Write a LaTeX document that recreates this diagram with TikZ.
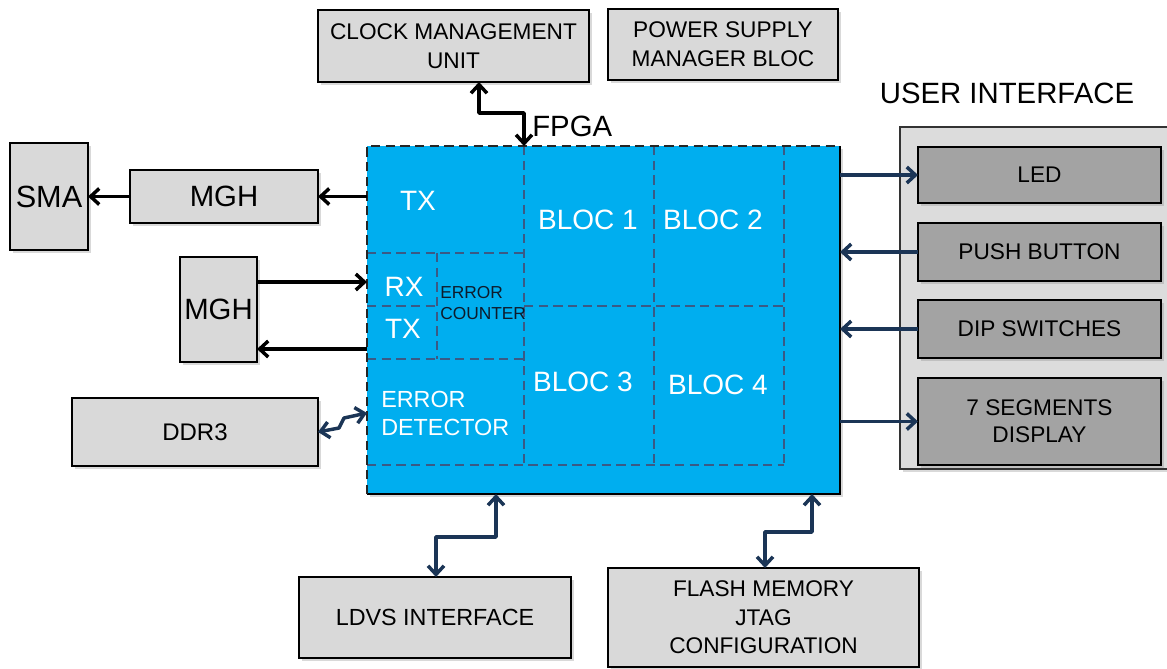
\documentclass[tikz,border=0pt]{standalone}
\usepackage{fontspec}
\setmainfont{Liberation Sans}
\usetikzlibrary{arrows.meta,shadows}
\definecolor{fpgablue}{HTML}{00AEEF}
\definecolor{lgray}{HTML}{D9D9D9}
\definecolor{dgray}{HTML}{A3A3A3}
\definecolor{uigray}{HTML}{DCDCDC}
\definecolor{navy}{HTML}{1B3556}
\definecolor{dashc}{HTML}{3A5A85}
\newcommand\myfs[2]{\fontsize{#1}{#2}\selectfont}
\begin{document}
\begin{tikzpicture}[x=0.75pt,y=-0.75pt,
  >={Straight Barb[length=6.5pt,width=12pt]},
  box/.style={draw=black, line width=1.8pt, fill=lgray, inner sep=0pt, outer sep=0pt, align=center,
    drop shadow={shadow xshift=2pt,shadow yshift=-2pt,opacity=0.3}},
  uibox/.style={box, fill=dgray},
  wtxt/.style={text=white, inner sep=0pt},
  dsh/.style={draw=dashc, line width=1.6pt, dash pattern=on 7pt off 4pt},
  barr/.style={draw=black, line width=2.6pt, line join=round},
  narr/.style={draw=navy, line width=2.6pt, line join=round},
  t17/.style={font=\myfs{17}{21.5}\selectfont}
]
\useasboundingbox (0,0) rectangle (1167,668);

% top boxes
\node[box, t17, minimum width=271*0.75pt, minimum height=72*0.75pt] (clk) at (453.5,46) {CLOCK MANAGEMENT\\UNIT};
\node[box, t17, minimum width=230*0.75pt, minimum height=71*0.75pt] (pwr) at (723,44.5) {POWER SUPPLY\\MANAGER BLOC};

% FPGA
\node[fill=fpgablue, inner sep=0pt, outer sep=0pt, minimum width=473*0.75pt, minimum height=348*0.75pt,
  drop shadow={shadow xshift=2pt,shadow yshift=-2pt,opacity=0.3}] (fpga) at (603.5,320) {};
\draw[dsh] (524,146) -- (524,465);
\draw[dsh] (654,146) -- (654,465);
\draw[dsh] (784,146) -- (784,465);
\draw[dsh] (524,306) -- (784,306);
\draw[dsh] (367,465) -- (784,465);
\draw[dsh] (367,253) -- (523,253);
\draw[dsh] (367,359) -- (523,359);
\draw[dsh] (437,253) -- (437,359);
\draw[dsh] (367,306) -- (437,306);
\draw[draw=black, line width=2.2pt] (fpga.north east) -- (fpga.south east) -- (fpga.south west);
\draw[draw=black!85, line width=2.2pt, dash pattern=on 7pt off 4pt] (fpga.south west) -- (fpga.north west) -- (fpga.north east);
\node[anchor=west, inner sep=0pt, font=\myfs{22}{26}] (fpgal) at (532,126) {FPGA};

\node[wtxt, font=\myfs{21}{25}] (tx1) at (418,201) {TX};
\node[wtxt, font=\myfs{21}{25}] (b1) at (588,220) {BLOC 1};
\node[wtxt, font=\myfs{21}{25}] (b2) at (713,220) {BLOC 2};
\node[wtxt, font=\myfs{21}{25}] (b3) at (583,382) {BLOC 3};
\node[wtxt, font=\myfs{21}{25}] (b4) at (718,385) {BLOC 4};
\node[wtxt, font=\myfs{21}{25}] (rx) at (404,287) {RX};
\node[wtxt, font=\myfs{21}{25}] (tx2) at (403,329) {TX};
\node[anchor=west, inner sep=0pt, align=left, text=navy!50!black, font=\myfs{13}{15.5}] (ec) at (440,303) {ERROR\\COUNTER};
\node[anchor=west, wtxt, align=left, font=\myfs{17.5}{20.5}] (ed) at (381,413.5) {ERROR\\DETECTOR};

% left side
\node[box, font=\myfs{23}{26}, minimum width=78*0.75pt, minimum height=107*0.75pt] (sma) at (49,196.5) {SMA};
\node[box, font=\myfs{22}{26}, minimum width=188*0.75pt, minimum height=53*0.75pt] (mgh1) at (224,196.5) {MGH};
\node[box, font=\myfs{22}{26}, minimum width=77*0.75pt, minimum height=105*0.75pt] (mgh2) at (218.5,309.5) {MGH};
\node[box, font=\myfs{18}{20}, minimum width=246*0.75pt, minimum height=68*0.75pt] (ddr) at (195,432) {DDR3};

\coordinate (rxin) at (367,282);
\coordinate (txout) at (367,349);
\draw[barr,->] (mgh1.east -| fpga.west) -- (mgh1.east);
\draw[barr,->] (mgh1.west) -- (mgh1.west -| sma.east);
\draw[barr,->] (mgh2.east |- rxin) -- (rxin);
\draw[barr,->] (txout) -- (mgh2.east |- txout);
\coordinate (ddA) at (339,428);
\coordinate (ddB) at (344,418);
\coordinate (ddC) at (367,413);
\draw[narr,<->] (ddr.east) -- (ddA) -- (ddB) -- (ddC);

% clock connector
\coordinate (clkA) at (479,113);
\coordinate (clkB) at (524,113);
\draw[barr,<->] (clk.south -| clkA) -- (clkA) -- (clkB) -- (fpga.north -| clkB);

% user interface
\node[font=\myfs{22}{26}, inner sep=0pt] (uil) at (1007,93) {USER INTERFACE};
\node[box, fill=uigray, draw=black!80, minimum width=268*0.75pt, minimum height=342*0.75pt] (ui) at (1034,298) {};
\node[uibox, t17, minimum width=243*0.75pt, minimum height=56*0.75pt] (led) at (1039.5,175) {LED};
\node[uibox, t17, minimum width=243*0.75pt, minimum height=58*0.75pt] (push) at (1039.5,252) {PUSH BUTTON};
\node[uibox, t17, minimum width=243*0.75pt, minimum height=58*0.75pt] (dip) at (1039.5,329) {DIP SWITCHES};
\node[uibox, font=\myfs{17}{20}, minimum width=243*0.75pt, minimum height=87*0.75pt] (seg) at (1039.5,421.5) {7 SEGMENTS\\DISPLAY};
\draw[narr,->] (led.west -| fpga.east) -- (led.west);
\draw[narr,->] (push.west) -- (push.west -| fpga.east);
\draw[narr,->] (dip.west) -- (dip.west -| fpga.east);
\draw[narr,->] (seg.west -| fpga.east) -- (seg.west);

% bottom
\node[box, font=\myfs{17.5}{21}, minimum width=272*0.75pt, minimum height=81*0.75pt] (ldvs) at (435,617.5) {LDVS INTERFACE};
\node[box, font=\myfs{17}{21.4}, minimum width=311*0.75pt, minimum height=99*0.75pt] (flash) at (763.5,617.5) {FLASH MEMORY\\JTAG\\CONFIGURATION};
\coordinate (ldA) at (496,537);
\coordinate (ldB) at (436,537);
\draw[narr,<->] (fpga.south -| ldA) -- (ldA) -- (ldB) -- (ldvs.north -| ldB);
\coordinate (flA) at (812,532);
\coordinate (flB) at (765,532);
\draw[narr,<->] (fpga.south -| flA) -- (flA) -- (flB) -- (flash.north -| flB);
\end{tikzpicture}
\end{document}
